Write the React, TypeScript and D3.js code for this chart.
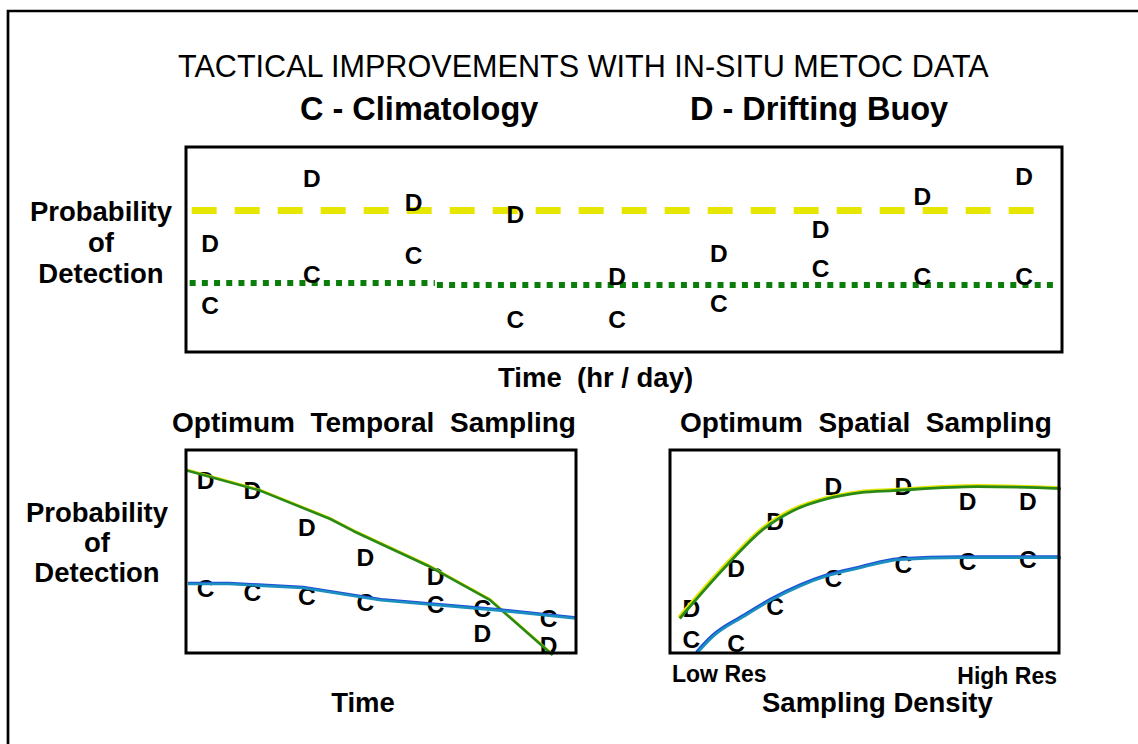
import React, { useEffect, useRef } from 'react';
import * as d3 from 'd3';

const FONT = '"Liberation Sans", Arial, Helvetica, sans-serif';

// top panel: probability of detection through time, one column per hour/day
const topTimes = [0, 1, 2, 3, 4, 5, 6, 7, 8];
const topDrift = [0.53, 0.85, 0.73, 0.67, 0.37, 0.48, 0.6, 0.76, 0.86];
const topClim = [0.23, 0.38, 0.47, 0.16, 0.16, 0.24, 0.41, 0.37, 0.37];
const driftMean = [{ from: -0.18, to: 8.19, value: 0.69 }];
const climMean = [
  { from: -0.2, to: 2.21, value: 0.337 },
  { from: 2.23, to: 8.33, value: 0.327 },
];

// optimum temporal sampling
const temporalTimes = [0.5, 1.7, 3.1, 4.6, 6.4, 7.6, 9.3];
const temporalDrift = [0.85, 0.8, 0.62, 0.47, 0.38, 0.1, 0.04];
const temporalClim = [0.32, 0.3, 0.28, 0.25, 0.24, 0.22, 0.17];
const temporalDriftFitX = [0, 1.9, 3.7, 4.3, 6.2, 7.8, 9.4];
const temporalDriftFitY = [0.9, 0.8, 0.66, 0.6, 0.43, 0.26, -0.01];
const temporalClimFitX = [0.05, 1.1, 3.0, 5.0, 8.0, 10.0];
const temporalClimFitY = [0.34, 0.34, 0.32, 0.26, 0.21, 0.17];

// optimum spatial sampling
const spatialDensity = [0.55, 1.7, 2.7, 4.2, 6.0, 7.65, 9.2];
const spatialDrift = [0.22, 0.42, 0.65, 0.82, 0.82, 0.75, 0.75];
const spatialClim = [0.07, 0.05, 0.23, 0.37, 0.44, 0.45, 0.46];
const spatialDriftFitX = [0.25, 1.45, 2.4, 3.15, 4.05, 4.9, 5.75, 7.9, 10.05];
const spatialDriftFitY = [0.17, 0.43, 0.61, 0.7, 0.76, 0.79, 0.8, 0.82, 0.81];
const spatialClimFitX = [0.7, 1.1, 1.9, 2.6, 3.35, 4.05, 4.9, 5.9, 7.5, 10.05];
const spatialClimFitY = [0, 0.08, 0.18, 0.26, 0.33, 0.38, 0.42, 0.46, 0.47, 0.47];

const YELLOW = '#e6e600';
const GREEN = '#2b8a16';
const DOT_GREEN = '#0b7d0b';
const BLUE = '#1f4fd6';
const TEAL = '#1a8fc0';

function App() {
  const svgRef = useRef(null);

  useEffect(() => {
    const svg = d3.select(svgRef.current);
    svg.selectAll('*').remove();

    const width = 1138;
    const height = 744;
    svg.attr('width', width).attr('height', height);

    svg.append('rect').attr('width', width).attr('height', height).attr('fill', '#fff');

    // outer frame, only top and left edges are inside the picture
    svg.append('path')
      .attr('d', `M8,${height} V11 H${width}`)
      .attr('fill', 'none')
      .attr('stroke', '#000')
      .attr('stroke-width', 2.7);

    const text = (x, y, str, size, opts = {}) =>
      svg.append('text')
        .attr('x', x)
        .attr('y', y)
        .attr('font-family', FONT)
        .attr('font-size', size)
        .attr('font-weight', opts.weight || 'bold')
        .attr('text-anchor', opts.anchor || 'start')
        .attr('fill', '#000')
        .style('white-space', 'pre')
        .text(str);

    text(178, 77, 'TACTICAL IMPROVEMENTS WITH IN-SITU METOC DATA', 30.6, { weight: 'normal' });
    text(300, 120, 'C - Climatology', 32.5);
    text(690, 120, 'D - Drifting Buoy', 32.5);

    const yLabel = (cx, baselines) => {
      ['Probability', 'of', 'Detection'].forEach((s, i) => text(cx, baselines[i], s, 27.5, { anchor: 'middle' }));
    };

    const letters = (g, xs, ys, x, y, ch) => {
      g.selectAll(null)
        .data(xs.map((t, i) => [t, ys[i]]))
        .join('text')
        .attr('x', d => x(d[0]))
        .attr('y', d => y(d[1]))
        .attr('dy', '0.36em')
        .attr('text-anchor', 'middle')
        .attr('font-family', FONT)
        .attr('font-weight', 'bold')
        .attr('font-size', 24.5)
        .attr('fill', '#000')
        .text(ch);
    };

    const box = (x0, x1, y0, y1) =>
      svg.append('rect')
        .attr('x', x0).attr('y', y0)
        .attr('width', x1 - x0).attr('height', y1 - y0)
        .attr('fill', 'none')
        .attr('stroke', '#000')
        .attr('stroke-width', 3);

    // ---- top panel ----
    const xTop = d3.scaleLinear().domain([0, 8]).range([210, 1024]);
    const yTop = d3.scaleLinear().domain([0, 1]).range([352, 147]);
    const top = svg.append('g');

    top.selectAll(null)
      .data(driftMean)
      .join('line')
      .attr('x1', d => xTop(d.from)).attr('x2', d => xTop(d.to))
      .attr('y1', d => yTop(d.value)).attr('y2', d => yTop(d.value))
      .attr('stroke', YELLOW)
      .attr('stroke-width', 7)
      .attr('stroke-dasharray', '25 18');

    top.selectAll(null)
      .data(climMean)
      .join('line')
      .attr('x1', d => xTop(d.from)).attr('x2', d => xTop(d.to))
      .attr('y1', d => yTop(d.value)).attr('y2', d => yTop(d.value))
      .attr('stroke', DOT_GREEN)
      .attr('stroke-width', 6)
      .attr('stroke-dasharray', '6 6.2');

    letters(top, topTimes, topDrift, xTop, yTop, 'D');
    letters(top, topTimes, topClim, xTop, yTop, 'C');
    box(186, 1062, 147, 352);

    yLabel(101, [221, 252, 283]);
    text(498, 387, 'Time  (hr / day)', 27.5);

    // ---- temporal sampling ----
    const xTemp = d3.scaleLinear().domain([0, 10]).range([186, 576]);
    const yTemp = d3.scaleLinear().domain([0, 1]).range([653, 450]);
    const temp = svg.append('g');
    letters(temp, temporalTimes, temporalDrift, xTemp, yTemp, 'D');
    letters(temp, temporalTimes, temporalClim, xTemp, yTemp, 'C');

    const fit = (g, xs, ys, x, y, color, w, dx = 0, dy = 0, curve = d3.curveLinear) => {
      const line = d3.line()
        .x(d => x(d[0]) + dx)
        .y(d => y(d[1]) + dy)
        .curve(curve);
      g.append('path')
        .datum(xs.map((t, i) => [t, ys[i]]))
        .attr('fill', 'none')
        .attr('stroke', color)
        .attr('stroke-width', w)
        .attr('stroke-linejoin', 'round')
        .attr('d', line);
    };

    fit(temp, temporalDriftFitX, temporalDriftFitY, xTemp, yTemp, YELLOW, 2, 0, -1);
    fit(temp, temporalDriftFitX, temporalDriftFitY, xTemp, yTemp, GREEN, 2.6);
    fit(temp, temporalClimFitX, temporalClimFitY, xTemp, yTemp, BLUE, 2.6, 0, -1);
    fit(temp, temporalClimFitX, temporalClimFitY, xTemp, yTemp, TEAL, 2.6);
    box(186, 576, 450, 653);

    text(172, 432, 'Optimum  Temporal  Sampling', 28);
    yLabel(97, [522, 552, 582]);
    text(363, 712, 'Time', 27.5, { anchor: 'middle' });

    // ---- spatial sampling ----
    const xSpat = d3.scaleLinear().domain([0, 10]).range([670, 1059]);
    const ySpat = d3.scaleLinear().domain([0, 1]).range([653, 450]);
    const spat = svg.append('g');
    letters(spat, spatialDensity, spatialDrift, xSpat, ySpat, 'D');
    letters(spat, spatialDensity, spatialClim, xSpat, ySpat, 'C');

    fit(spat, spatialDriftFitX, spatialDriftFitY, xSpat, ySpat, YELLOW, 2, -1.5, -1.5, d3.curveMonotoneX);
    fit(spat, spatialDriftFitX, spatialDriftFitY, xSpat, ySpat, GREEN, 2.8, 0, 0, d3.curveMonotoneX);
    fit(spat, spatialClimFitX, spatialClimFitY, xSpat, ySpat, BLUE, 2.6, -1, -1, d3.curveMonotoneX);
    fit(spat, spatialClimFitX, spatialClimFitY, xSpat, ySpat, TEAL, 2.6, 0, 0, d3.curveMonotoneX);
    box(670, 1059, 450, 653);

    text(680, 432, 'Optimum  Spatial  Sampling', 28);
    text(672, 682, 'Low Res', 23);
    text(1057, 684, 'High Res', 23, { anchor: 'end' });
    text(762, 712, 'Sampling Density', 27.5);
  }, []);

  return <svg ref={svgRef} style={{ position: 'absolute', left: 0, top: 0, display: 'block' }}></svg>;
}

export default App;
